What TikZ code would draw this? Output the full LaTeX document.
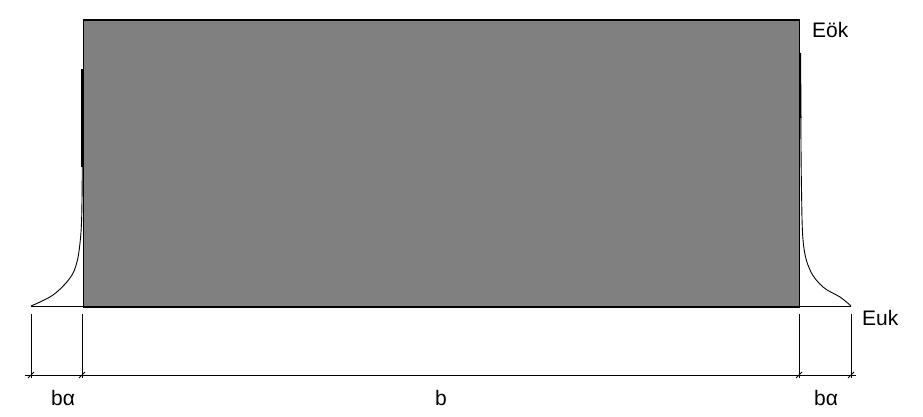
\documentclass[tikz,border=0pt]{standalone}
\usepackage{fontspec}
\setmainfont{Liberation Sans}
\begin{document}
\begin{tikzpicture}[x=1pt,y=-1pt,
  thinline/.style={line width=0.9pt},
  dimline/.style={line width=0.9pt},
  lbl/.style={font=\fontsize{21}{25}\selectfont, inner sep=0pt},
  slash/.style={line width=0.8pt}]
\useasboundingbox (0,0) rectangle (923,417);
% main rectangle
\node[draw=black, line width=1.2pt, fill={rgb,255:red,128;green,128;blue,128}, inner sep=0pt,
  minimum width=716pt, minimum height=287pt, anchor=north west] (rect) at (83,19.5) {};
% baseline
\coordinate (bl) at (31,306);
\coordinate (br) at (851,306);
\draw[thinline] (bl) -- (br);
% left tail
\coordinate (lt) at (82,69);
\coordinate (lm) at (82,167);
\draw[line width=2pt] (lt) -- (lm);
\draw[thinline] plot[smooth, tension=0.6] coordinates {(82.3,167) (81.7,217) (80,243) (76.7,263) (70,278) (53,295) (31,306)};
% right tail
\coordinate (rt) at (800,53);
\coordinate (rm) at (800.5,118);
\draw[line width=2pt] (rt) -- (rm);
\draw[thinline] plot[smooth, tension=0.6] coordinates {(800.8,118) (801.5,190) (803.3,243) (810,270) (823,287) (840,297) (851,306)};
% dimension verticals
\foreach \n/\x in {d1/31,d2/82,d3/799,d4/851}{
  \coordinate (\n t) at (\x,314);
  \coordinate (\n b) at (\x,378);
  \draw[dimline] (\n t) -- (\n b);
  \draw[slash] (\x-3,378) -- (\x+3,372);
}
\coordinate (hl) at (25,375);
\coordinate (hr) at (856,375);
\draw[dimline] (hl) -- (hr);
% labels
\node[lbl] (ba1) at (63,398) {bα};
\node[lbl] (b) at (441,398) {b};
\node[lbl] (ba2) at (826,398) {bα};
\node[lbl, anchor=west] (eok) at (812,30) {Eök};
\node[lbl, anchor=west] (euk) at (862,318) {Euk};
\end{tikzpicture}
\end{document}
